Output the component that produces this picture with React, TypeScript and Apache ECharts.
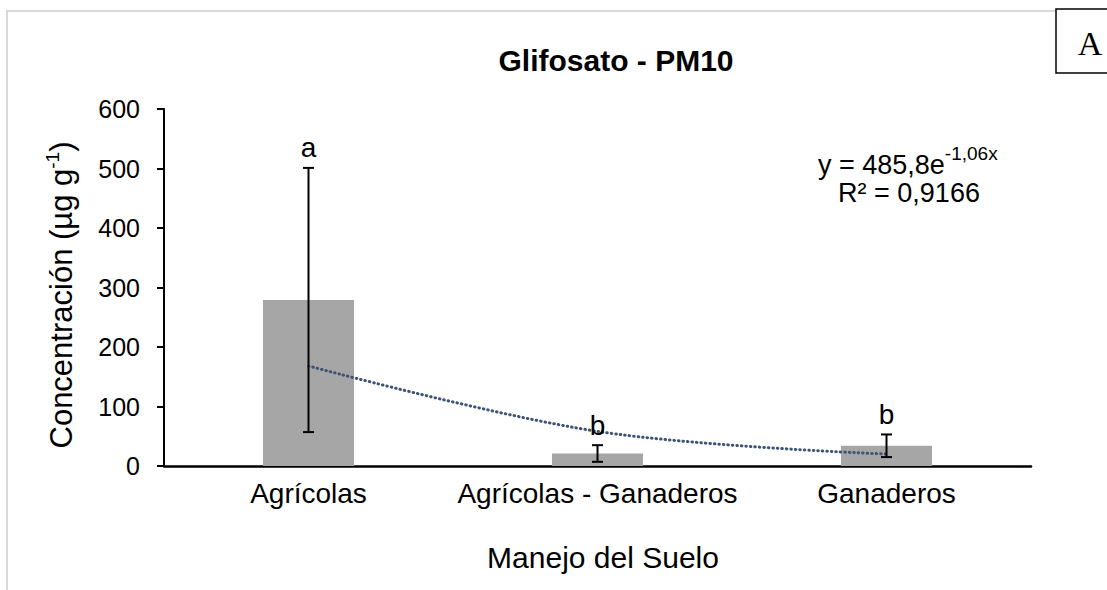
import React, { useEffect, useRef } from "react";
import * as echarts from "echarts";

const categories = ["Agrícolas", "Agrícolas - Ganaderos", "Ganaderos"];
const meanValues = [279, 21, 34];
const sdValues = [222, 14, 19];
const letters = ["a", "b", "b"];
const trendValues = [168.1, 58.2, 20.1];
const yTicks = { min: 0, max: 600, interval: 100 };

const FONT = "'Liberation Sans', Arial, sans-serif";

export default function App() {
  const ref = useRef<HTMLDivElement>(null);
  useEffect(() => {
    document.body.style.margin = "0";
    const chart = echarts.init(ref.current!, null, { renderer: "svg" });
    const errData = meanValues.map((v, i) => [i, v - sdValues[i], v + sdValues[i]]);
    chart.setOption({
      animation: false,
      backgroundColor: "#fff",
      textStyle: { fontFamily: FONT },
      grid: { left: 164, right: 76, top: 109, bottom: 124 },
      xAxis: {
        type: "category",
        data: categories,
        axisLine: { show: true, lineStyle: { color: "#000", width: 2.5 } },
        axisTick: { show: false },
        axisLabel: { color: "#000", fontSize: 28, margin: 13, interval: 0, fontFamily: FONT },
      },
      yAxis: {
        type: "value",
        min: yTicks.min,
        max: yTicks.max,
        interval: yTicks.interval,
        axisLine: { show: true, lineStyle: { color: "#000", width: 2 } },
        axisTick: { show: true, length: 7, lineStyle: { color: "#000", width: 2 } },
        splitLine: { show: false },
        axisLabel: { color: "#000", fontSize: 25, margin: 24, fontFamily: FONT },
      },
      series: [
        {
          type: "bar",
          data: meanValues,
          barWidth: "31.5%",
          itemStyle: { color: "#a6a6a6" },
          z: 2,
        },
        {
          type: "line",
          data: trendValues,
          smooth: 0.35,
          symbol: "none",
          lineStyle: { color: "#3e5475", width: 3, type: [0.5, 4], cap: "round" },
          z: 3,
        },
        {
          type: "custom",
          data: errData,
          z: 4,
          renderItem: (params: any, api: any) => {
            const x = api.value(0);
            const lo = api.coord([x, api.value(1)]);
            const hi = api.coord([x, api.value(2)]);
            const half = 5.5;
            const st = { stroke: "#000", lineWidth: 2 };
            return {
              type: "group",
              children: [
                { type: "line", shape: { x1: lo[0], y1: lo[1], x2: hi[0], y2: hi[1] }, style: st },
                { type: "line", shape: { x1: lo[0] - half, y1: lo[1], x2: lo[0] + half, y2: lo[1] }, style: st },
                { type: "line", shape: { x1: hi[0] - half, y1: hi[1], x2: hi[0] + half, y2: hi[1] }, style: st },
                {
                  type: "text",
                  x: hi[0],
                  y: hi[1] - 20,
                  style: {
                    text: letters[params.dataIndex],
                    fill: "#000",
                    font: `28px ${FONT}`,
                    align: "center",
                    verticalAlign: "middle",
                  },
                },
              ],
            };
          },
        },
      ],
      graphic: [
        { type: "line", shape: { x1: 7, y1: 11, x2: 1056, y2: 11 }, style: { stroke: "#d9d9d9", lineWidth: 2 } },
        { type: "line", shape: { x1: 7, y1: 10, x2: 7, y2: 590 }, style: { stroke: "#d9d9d9", lineWidth: 2 } },
        {
          type: "rect",
          shape: { x: 1056, y: 9, width: 70, height: 64 },
          style: { fill: "#fff", stroke: "#000", lineWidth: 1.5 },
        },
        {
          type: "text",
          x: 1090,
          y: 43,
          style: {
            text: "A",
            fill: "#000",
            font: "34px 'Liberation Serif', 'Times New Roman', serif",
            align: "center",
            verticalAlign: "middle",
          },
        },
        {
          type: "text",
          x: 616,
          y: 60,
          style: {
            text: "Glifosato - PM10",
            fill: "#000",
            font: `bold 30px ${FONT}`,
            align: "center",
            verticalAlign: "middle",
          },
        },
        {
          type: "text",
          x: 60,
          y: 295,
          rotation: Math.PI / 2,
          style: {
            text: "{a|Concentración (µg g}{s|-1}{a|)}",
            fill: "#000",
            align: "center",
            verticalAlign: "middle",
            rich: {
              a: { fontSize: 31, fontFamily: FONT, fill: "#000", lineHeight: 34, verticalAlign: "bottom" },
              s: { fontSize: 19, fontFamily: FONT, fill: "#000", lineHeight: 34, verticalAlign: "top" },
            },
          },
        },
        {
          type: "text",
          x: 603,
          y: 557,
          style: {
            text: "Manejo del Suelo",
            fill: "#000",
            font: `30px ${FONT}`,
            align: "center",
            verticalAlign: "middle",
          },
        },
        {
          type: "text",
          x: 818,
          y: 161,
          style: {
            text: "{n|y = 485,8e}{s|-1,06x}",
            fill: "#000",
            align: "left",
            verticalAlign: "middle",
            rich: {
              n: { fontSize: 27, fontFamily: FONT, fill: "#000", lineHeight: 34, verticalAlign: "bottom" },
              s: { fontSize: 19, fontFamily: FONT, fill: "#000", lineHeight: 34, verticalAlign: "top" },
            },
          },
        },
        {
          type: "text",
          x: 909,
          y: 193,
          style: {
            text: "R² = 0,9166",
            fill: "#000",
            font: `27px ${FONT}`,
            align: "center",
            verticalAlign: "middle",
          },
        },
      ],
    });
    return () => chart.dispose();
  }, []);
  return <div ref={ref} style={{ position: "absolute", left: 0, top: 0, width: 1107, height: 590 }} />;
}
